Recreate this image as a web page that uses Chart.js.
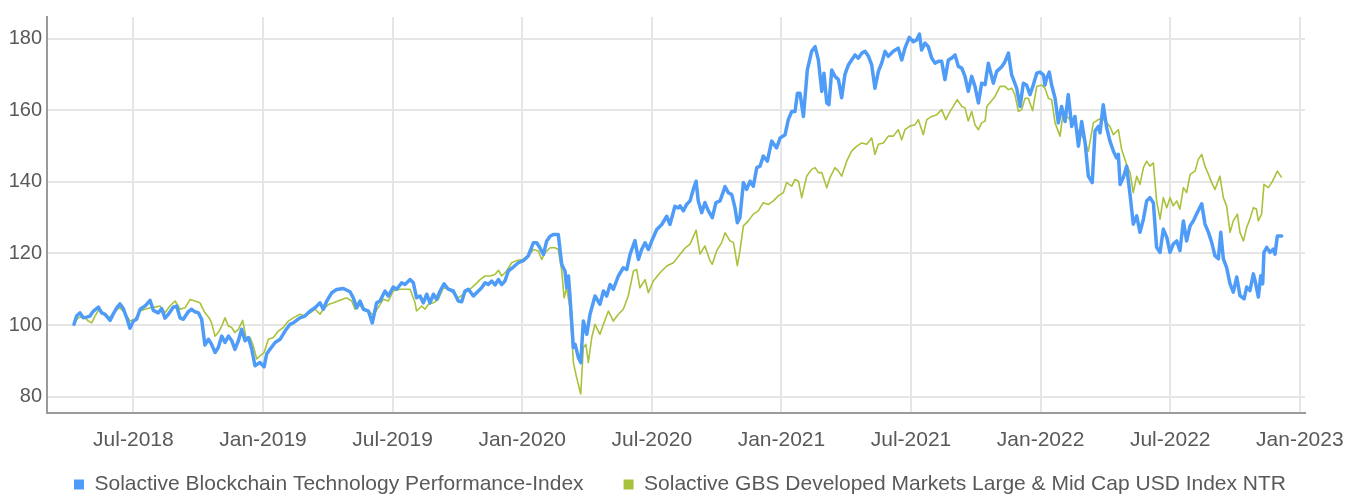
<!DOCTYPE html>
<html>
<head>
<meta charset="utf-8">
<script src="https://cdn.jsdelivr.net/npm/chart.js@4.4.1/dist/chart.umd.min.js"></script>
<style>
  body { margin: 0; background: #fff; }
  #wrap { width: 1360px; height: 498px; }
</style>
</head>
<body>
<div id="wrap"><canvas id="myChart" width="1360" height="498"></canvas></div>
<script>
// x values are months since Jan-2018 (0 = 1 Jan 2018)
const blockchainMonths = [
  3.25, 3.37, 3.53, 3.68, 3.84, 3.99, 4.15, 4.38, 4.53, 4.69, 4.92, 5.07, 5.23, 5.38, 5.53, 5.69, 5.84, 6.00, 6.15, 6.31,
  6.54, 6.77, 6.92, 7.15, 7.31, 7.46, 7.62, 7.85, 8.00, 8.16, 8.31, 8.54, 8.70, 8.85, 9.01, 9.16, 9.31, 9.47, 9.62, 9.78,
  9.93, 10.09, 10.24, 10.40, 10.55, 10.70, 10.86, 11.01, 11.17, 11.32, 11.48, 11.63, 11.86, 12.05, 12.17, 12.32, 12.56, 12.79, 13.02, 13.25,
  13.40, 13.71, 13.94, 14.18, 14.41, 14.64, 14.79, 14.95, 15.18, 15.41, 15.72, 16.03, 16.18, 16.34, 16.49, 16.65, 16.88, 17.06, 17.26, 17.42,
  17.49, 17.65, 17.80, 18.03, 18.19, 18.42, 18.57, 18.81, 18.96, 19.11, 19.27, 19.42, 19.58, 19.73, 19.89, 20.04, 20.20, 20.38, 20.58, 20.81,
  21.04, 21.20, 21.35, 21.51, 21.74, 21.89, 22.12, 22.28, 22.43, 22.59, 22.74, 22.90, 23.05, 23.20, 23.36, 23.59, 23.82, 24.05, 24.28, 24.52,
  24.67, 24.82, 24.98, 25.13, 25.29, 25.44, 25.67, 25.83, 25.98, 26.06, 26.14, 26.21, 26.37, 26.45, 26.60, 26.71, 26.83, 26.99, 27.14, 27.37,
  27.60, 27.76, 27.91, 28.07, 28.22, 28.45, 28.68, 28.84, 28.99, 29.22, 29.38, 29.53, 29.69, 29.84, 29.99, 30.23, 30.46, 30.69, 30.84, 31.07,
  31.23, 31.31, 31.46, 31.61, 31.77, 31.92, 32.05, 32.15, 32.31, 32.46, 32.62, 32.80, 32.97, 33.16, 33.39, 33.54, 33.70, 33.85, 33.96, 34.08,
  34.24, 34.39, 34.55, 34.70, 34.86, 35.01, 35.16, 35.35, 35.55, 35.78, 35.94, 36.17, 36.32, 36.48, 36.63, 36.74, 36.86, 37.02, 37.20, 37.40,
  37.56, 37.71, 37.87, 37.97, 38.10, 38.20, 38.33, 38.48, 38.64, 38.79, 38.94, 39.10, 39.25, 39.41, 39.56, 39.72, 39.87, 40.03, 40.18, 40.33,
  40.49, 40.64, 40.80, 40.95, 41.18, 41.41, 41.57, 41.72, 41.92, 42.11, 42.26, 42.39, 42.49, 42.65, 42.80, 42.96, 43.11, 43.27, 43.42, 43.57,
  43.73, 43.88, 44.04, 44.19, 44.35, 44.50, 44.65, 44.81, 44.96, 45.12, 45.27, 45.43, 45.58, 45.81, 45.97, 46.20, 46.35, 46.51, 46.66, 46.89,
  47.05, 47.20, 47.35, 47.51, 47.66, 47.82, 47.97, 48.13, 48.20, 48.28, 48.40, 48.51, 48.67, 48.82, 48.97, 49.13, 49.28, 49.44, 49.59, 49.75,
  49.90, 50.06, 50.21, 50.39, 50.52, 50.67, 50.75, 50.90, 51.06, 51.21, 51.37, 51.52, 51.60, 51.68, 51.83, 51.98, 52.14, 52.29, 52.45, 52.60,
  52.76, 52.91, 53.06, 53.22, 53.37, 53.53, 53.68, 53.84, 53.99, 54.14, 54.30, 54.45, 54.61, 54.76, 54.92, 55.07, 55.22, 55.46, 55.61, 55.77,
  55.92, 56.07, 56.23, 56.34, 56.46, 56.61, 56.77, 56.92, 57.08, 57.23, 57.42, 57.54, 57.69, 57.85, 57.93, 58.08, 58.19, 58.28, 58.34, 58.47,
  58.62, 58.77, 58.85, 58.96, 59.16
];
const blockchainValues = [
  100.2, 102.5, 103.4, 102.0, 102.2, 102.5, 103.9, 105.0, 103.4, 103.0, 101.3, 103.1, 104.8, 105.9, 104.6, 102.0, 99.1, 101.1, 101.6, 104.4,
  105.3, 106.9, 104.1, 103.4, 104.6, 101.9, 103.0, 105.0, 105.3, 102.0, 101.6, 103.7, 104.4, 103.7, 103.4, 101.6, 94.4, 96.0, 94.6, 92.3,
  93.7, 96.9, 95.1, 96.9, 95.6, 93.2, 95.6, 98.8, 95.6, 96.5, 93.2, 88.6, 89.5, 88.3, 91.9, 93.2, 95.1, 96.0, 98.3, 100.2,
  100.6, 102.0, 102.5, 103.9, 104.8, 106.2, 104.4, 106.7, 109.0, 109.9, 110.2, 109.3, 107.6, 104.8, 106.7, 104.4, 103.9, 100.6, 106.2, 106.7,
  107.6, 109.5, 108.1, 110.6, 110.0, 111.8, 111.3, 112.7, 111.8, 107.6, 108.1, 106.2, 108.6, 106.2, 108.6, 107.2, 109.5, 111.5, 110.0, 109.5,
  106.7, 106.5, 109.5, 110.0, 108.1, 109.0, 110.4, 111.8, 111.3, 112.3, 111.2, 112.7, 111.3, 112.3, 115.1, 116.2, 117.4, 118.0, 119.3, 123.0,
  123.0, 121.6, 119.7, 123.4, 124.8, 125.3, 125.3, 116.9, 115.1, 110.4, 113.7, 108.1, 93.7, 94.6, 90.9, 89.5, 101.1, 97.4, 103.0, 108.1,
  105.8, 109.5, 108.1, 111.3, 110.0, 113.7, 116.0, 115.5, 119.7, 123.6, 118.3, 121.1, 123.0, 121.1, 123.4, 126.7, 128.1, 130.4, 128.1, 133.2,
  132.7, 133.3, 131.9, 133.7, 134.7, 137.9, 140.2, 134.7, 131.4, 134.2, 131.9, 130.0, 134.2, 134.7, 138.7, 137.0, 136.5, 132.8, 128.6, 130.0,
  139.8, 137.9, 140.2, 138.8, 144.0, 144.4, 147.2, 145.8, 151.4, 149.5, 152.3, 153.2, 157.4, 159.7, 159.7, 164.8, 164.8, 158.3, 171.3, 176.5,
  177.8, 174.1, 165.3, 170.4, 162.1, 161.6, 171.3, 169.5, 168.6, 163.5, 170.0, 172.7, 174.1, 175.5, 174.6, 176.0, 176.5, 175.1, 172.7, 166.2,
  170.9, 173.2, 176.5, 175.1, 176.5, 177.4, 174.1, 177.4, 180.4, 179.2, 179.7, 181.3, 176.9, 178.8, 177.8, 174.6, 173.2, 173.7, 173.7, 168.6,
  174.1, 174.6, 175.5, 172.3, 171.8, 169.5, 165.3, 169.5, 166.7, 162.1, 167.6, 167.2, 173.2, 167.6, 170.9, 172.2, 173.6, 176.0, 169.9, 166.2,
  161.1, 167.6, 167.1, 164.4, 167.1, 170.4, 170.7, 169.9, 167.1, 169.0, 170.7, 167.1, 163.4, 156.5, 161.1, 156.9, 164.4, 155.5, 158.3, 150.0,
  156.9, 150.9, 141.6, 139.8, 154.2, 155.5, 153.7, 161.6, 155.1, 151.4, 148.6, 146.7, 147.7, 139.3, 141.2, 144.4, 136.5, 128.2, 130.5, 125.9,
  129.6, 134.7, 135.6, 134.2, 121.7, 120.3, 126.8, 124.5, 120.3, 122.6, 123.5, 120.8, 129.1, 123.5, 127.7, 129.1, 131.0, 133.9, 128.2, 125.9,
  123.1, 119.4, 118.5, 125.9, 118.5, 116.1, 111.5, 109.2, 113.4, 108.2, 107.3, 110.6, 109.6, 114.3, 112.4, 107.8, 113.8, 111.5, 120.3, 121.7,
  120.3, 121.2, 119.8, 124.9, 124.9
];

const gbsMonths = [
  3.25, 3.45, 3.68, 3.91, 4.07, 4.22, 4.38, 4.61, 4.92, 5.15, 5.38, 5.61, 5.84, 6.07, 6.31, 6.54, 6.77, 7.00, 7.23, 7.46,
  7.69, 7.93, 8.16, 8.39, 8.62, 8.85, 9.08, 9.31, 9.50, 9.62, 9.78, 9.93, 10.09, 10.24, 10.40, 10.55, 10.70, 10.86, 11.06, 11.24,
  11.40, 11.55, 11.71, 11.86, 12.05, 12.25, 12.48, 12.71, 12.94, 13.17, 13.40, 13.71, 13.94, 14.18, 14.41, 14.64, 14.79, 15.03, 15.26, 15.57,
  15.87, 16.11, 16.26, 16.42, 16.65, 16.88, 17.11, 17.42, 17.57, 17.80, 18.03, 18.34, 18.81, 19.04, 19.11, 19.35, 19.50, 19.66, 19.89, 20.12,
  20.35, 20.58, 20.81, 21.04, 21.28, 21.58, 21.82, 22.05, 22.28, 22.51, 22.74, 22.90, 23.05, 23.28, 23.51, 23.74, 24.05, 24.28, 24.52, 24.75,
  24.90, 25.06, 25.29, 25.52, 25.67, 25.83, 25.94, 26.06, 26.21, 26.37, 26.52, 26.71, 26.83, 26.95, 27.06, 27.22, 27.37, 27.60, 27.76, 27.99,
  28.22, 28.45, 28.68, 28.91, 29.15, 29.30, 29.45, 29.69, 29.84, 30.07, 30.38, 30.69, 31.00, 31.31, 31.54, 31.77, 32.05, 32.23, 32.46, 32.69,
  32.80, 33.00, 33.24, 33.39, 33.62, 33.78, 33.96, 34.08, 34.24, 34.47, 34.70, 34.93, 35.16, 35.40, 35.63, 35.86, 36.09, 36.24, 36.48, 36.63,
  36.79, 36.94, 37.17, 37.40, 37.56, 37.71, 37.87, 38.10, 38.25, 38.48, 38.64, 38.79, 39.02, 39.25, 39.49, 39.72, 39.95, 40.18, 40.33, 40.49,
  40.72, 40.95, 41.18, 41.41, 41.57, 41.72, 41.95, 42.19, 42.34, 42.57, 42.73, 42.96, 43.19, 43.42, 43.61, 43.81, 43.96, 44.14, 44.35, 44.50,
  44.65, 44.81, 44.96, 45.12, 45.27, 45.43, 45.51, 45.89, 46.12, 46.35, 46.51, 46.66, 46.81, 46.97, 47.12, 47.28, 47.43, 47.63, 47.82, 48.05,
  48.20, 48.36, 48.51, 48.67, 48.90, 49.05, 49.28, 49.44, 49.59, 49.75, 49.98, 50.21, 50.44, 50.67, 50.83, 51.06, 51.21, 51.37, 51.60, 51.75,
  51.98, 52.14, 52.29, 52.45, 52.60, 52.76, 52.91, 53.06, 53.22, 53.37, 53.53, 53.68, 53.84, 53.99, 54.14, 54.30, 54.45, 54.61, 54.76, 54.92,
  55.15, 55.30, 55.46, 55.61, 55.77, 55.92, 56.07, 56.30, 56.46, 56.61, 56.77, 56.92, 57.11, 57.23, 57.39, 57.54, 57.69, 57.85, 57.99, 58.08,
  58.23, 58.34, 58.54, 58.70, 58.85, 58.96, 59.16
];
const gbsValues = [
  100.6, 102.0, 102.5, 101.1, 100.6, 102.5, 104.1, 103.4, 102.0, 104.1, 104.8, 103.4, 101.1, 101.6, 103.9, 104.4, 104.8, 105.0, 105.3, 103.4,
  105.3, 106.7, 104.4, 104.8, 107.1, 106.7, 106.2, 103.4, 102.0, 100.6, 96.9, 97.9, 99.7, 102.0, 99.7, 99.3, 97.9, 98.8, 101.3, 95.6,
  96.5, 94.2, 90.5, 91.4, 92.3, 96.0, 96.5, 98.3, 99.3, 101.1, 102.0, 103.0, 102.5, 103.4, 104.4, 103.0, 104.4, 105.7, 106.2, 106.9,
  107.6, 106.7, 104.4, 105.7, 104.6, 103.9, 102.8, 105.7, 107.2, 106.7, 109.5, 110.0, 110.0, 106.2, 103.9, 105.3, 104.4, 105.8, 106.2, 107.2,
  110.4, 110.0, 109.0, 107.6, 108.6, 110.0, 111.3, 112.7, 113.7, 113.7, 114.1, 115.3, 113.7, 115.1, 117.4, 118.0, 118.3, 119.3, 121.1, 120.7,
  118.3, 120.2, 121.6, 121.6, 121.1, 115.1, 107.6, 110.4, 104.8, 89.5, 85.3, 80.7, 93.7, 94.6, 89.5, 96.5, 100.2, 97.4, 100.2, 103.9,
  101.1, 103.0, 104.4, 108.1, 115.1, 115.5, 110.4, 112.7, 109.0, 112.3, 114.6, 116.5, 117.4, 119.8, 121.5, 122.6, 126.5, 119.8, 122.1, 118.0,
  117.0, 120.7, 123.1, 125.8, 123.5, 123.1, 116.6, 120.7, 127.7, 129.1, 131.0, 131.9, 134.2, 133.7, 134.7, 136.1, 137.0, 139.8, 138.8, 140.7,
  140.2, 135.6, 141.6, 143.5, 144.0, 142.6, 142.6, 138.4, 141.2, 144.0, 143.0, 141.6, 145.8, 148.6, 150.0, 150.9, 150.5, 152.3, 147.7, 150.5,
  150.9, 152.8, 152.8, 154.6, 151.8, 154.6, 155.6, 156.0, 157.4, 153.2, 157.4, 158.3, 158.8, 160.2, 157.4, 159.7, 161.1, 163.0, 161.1, 160.7,
  157.0, 159.7, 156.0, 154.6, 156.5, 157.0, 161.1, 163.9, 166.7, 166.7, 165.8, 166.2, 164.4, 159.7, 160.2, 163.4, 163.4, 159.9, 166.7, 167.1,
  166.2, 163.4, 163.0, 156.5, 152.8, 159.7, 157.9, 156.9, 156.0, 154.2, 152.3, 148.6, 156.5, 157.4, 157.9, 156.5, 155.5, 153.2, 154.6, 149.1,
  144.9, 142.6, 137.0, 141.6, 139.3, 144.0, 145.8, 144.4, 145.3, 134.7, 129.6, 135.6, 132.8, 135.6, 133.3, 134.7, 132.4, 138.4, 137.0, 142.1,
  143.0, 146.3, 147.7, 144.4, 142.1, 139.8, 137.9, 141.6, 135.6, 133.3, 125.9, 129.1, 131.0, 125.9, 123.5, 127.3, 129.6, 132.8, 132.4, 129.1,
  131.0, 139.3, 138.4, 139.8, 141.6, 143.0, 141.2
];

const tickMonths = [6, 12, 18, 24, 30, 36, 42, 48, 54, 60];
const tickLabels = ['Jul-2018', 'Jan-2019', 'Jul-2019', 'Jan-2020', 'Jul-2020', 'Jan-2021', 'Jul-2021', 'Jan-2022', 'Jul-2022', 'Jan-2023'];
const yTicks = [80, 100, 120, 140, 160, 180];

const seriesNames = ['Solactive Blockchain Technology Performance-Index', 'Solactive GBS Developed Markets Large & Mid Cap USD Index NTR'];

function toPoints(xs, ys) {
  return xs.map((x, i) => ({ x: x, y: ys[i] }));
}

const textColor = '#595959';
const gridColor = '#e6e6e6';
const axisColor = '#9a9a9a';

// legend keeps its wide item spacing but sits just under the tick labels
const legendPlace = {
  id: 'legendPlace',
  beforeLayout(chart) {
    const lg = chart.legend;
    if (lg && !lg.patchedFit) {
      const fit = lg.fit.bind(lg);
      lg.fit = function () { fit(); this.height = 45; };
      lg.patchedFit = true;
    }
  },
  afterLayout(chart) {
    const lg = chart.legend;
    lg.top = 434;
    lg.bottom = chart.height;
    lg.height = lg.bottom - lg.top;
  }
};

Chart.defaults.font.family = '"Liberation Sans", Arial, sans-serif';
Chart.defaults.color = textColor;

const ctx = document.getElementById('myChart');

new Chart(ctx, {
  type: 'line',
  plugins: [legendPlace],
  data: {
    datasets: [
      {
        label: seriesNames[0],
        data: toPoints(blockchainMonths, blockchainValues),
        borderColor: '#4f9cf8',
        backgroundColor: '#4f9cf8',
        borderWidth: 3.5,
        borderJoinStyle: 'round',
        borderCapStyle: 'round',
        pointRadius: 0,
        tension: 0
      },
      {
        label: seriesNames[1],
        data: toPoints(gbsMonths, gbsValues),
        borderColor: '#a9c23b',
        backgroundColor: '#a9c23b',
        borderWidth: 1.6,
        borderJoinStyle: 'round',
        pointRadius: 0,
        tension: 0
      }
    ]
  },
  options: {
    responsive: false,
    animation: false,
    events: [],
    layout: { padding: { top: 15, left: 0, right: 0, bottom: 0 } },
    plugins: {
      tooltip: { enabled: false },
      legend: {
        position: 'bottom',
        labels: {
          boxWidth: 10,
          boxHeight: 10,
          padding: 40,
          color: textColor,
          font: { size: 21 },
          generateLabels: chart => Chart.defaults.plugins.legend.labels.generateLabels(chart).map(l => ({ ...l, lineWidth: 0 }))
        }
      }
    },
    scales: {
      x: {
        type: 'linear',
        min: 2.0,
        max: 60.24,
        afterBuildTicks: s => { s.ticks = tickMonths.map(v => ({ value: v })); },
        afterFit: s => { s.height = 40; },
        grid: { color: gridColor, lineWidth: 2, drawTicks: false },
        border: { color: axisColor, width: 2 },
        ticks: {
          autoSkip: false,
          maxRotation: 0,
          padding: 15,
          font: { size: 21 },
          color: textColor,
          callback: (v, i) => tickLabels[i]
        }
      },
      y: {
        min: 75.4,
        max: 186.1,
        afterBuildTicks: s => { s.ticks = yTicks.map(v => ({ value: v })); },
        afterFit: s => { s.width = 47; },
        grid: { color: gridColor, lineWidth: 2, drawTicks: false },
        border: { color: axisColor, width: 2 },
        ticks: {
          padding: 5,
          font: { size: 20 },
          color: textColor
        }
      },
      yRight: {
        position: 'right',
        afterFit: s => { s.width = 55; },
        grid: { display: false, drawTicks: false },
        border: { display: false },
        ticks: { display: false }
      }
    }
  }
});
</script>
</body>
</html>
